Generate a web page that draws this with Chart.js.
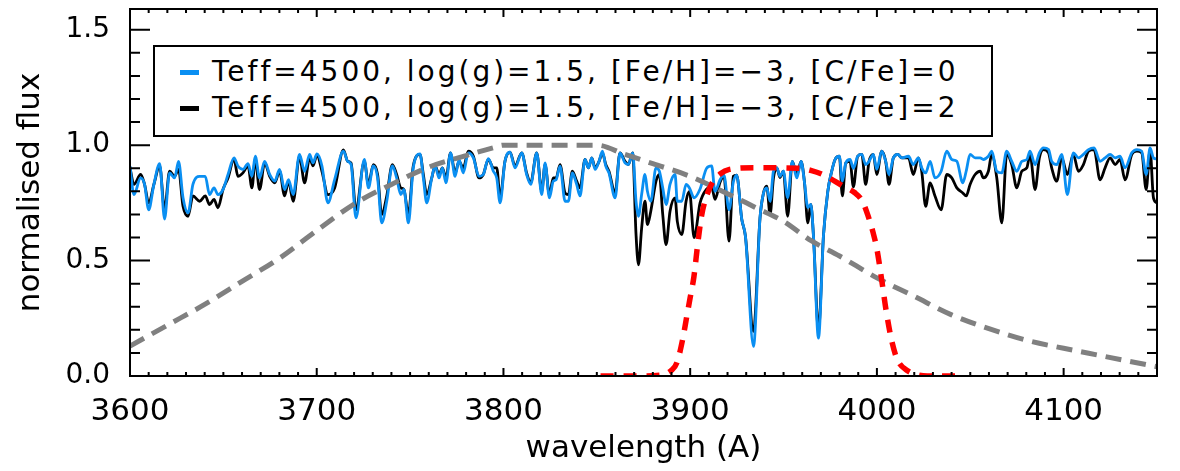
<!DOCTYPE html>
<html>
<head>
<meta charset="utf-8">
<script src="https://cdn.jsdelivr.net/npm/chart.js@4.4.1/dist/chart.umd.min.js"></script>
<style>
  body { margin: 0; background: #fff; }
  #wrap { position: relative; width: 1180px; height: 471px; }
  .legend {
    position: absolute; left: 153px; top: 45px; width: 836px; height: 88px;
    border: 2px solid #000; background: #fff;
    font-family: 'DejaVu Sans', sans-serif; font-size: 28px; letter-spacing: 3px; color: #000;
  }
  .legend .row { position: absolute; left: 0; height: 36px; line-height: 36px; white-space: nowrap; }
  .legend .swatch { position: absolute; left: 25px; top: 16px; width: 19px; height: 5px; }
  .legend .txt { position: absolute; left: 57px; top: 0; }
</style>
</head>
<body>
<div id="wrap">
  <canvas id="chart" width="1180" height="471"></canvas>
  <div class="legend" id="legend"></div>
</div>
<script>
// ---------------------------------------------------------------
// Data

// wavelength sample points (A), shared by both synthetic spectra
var wave = [
  3600.0, 3602.1, 3605.7, 3607.8, 3610.0, 3612.8, 3615.9, 3618.5, 3621.2, 3623.9,
  3626.0, 3628.4, 3631.1, 3633.7, 3637.3, 3640.3, 3642.6, 3645.0, 3647.1, 3649.8,
  3652.5, 3655.7, 3657.8, 3660.5, 3663.2, 3665.3, 3667.1, 3669.4, 3672.1, 3674.8,
  3677.5, 3680.1, 3682.8, 3684.9, 3687.4, 3690.8, 3693.5, 3696.2, 3698.0, 3700.1,
  3702.8, 3706.0, 3709.6, 3714.3, 3716.6, 3718.4, 3721.0, 3725.5, 3727.7, 3730.3,
  3732.6, 3734.8, 3737.5, 3740.5, 3742.8, 3745.0, 3746.7, 3749.1, 3751.7, 3755.3,
  3757.1, 3758.9, 3761.6, 3763.4, 3765.5, 3767.3, 3769.2, 3771.7, 3774.1, 3776.2,
  3778.5, 3781.2, 3783.9, 3786.9, 3789.2, 3791.9, 3794.6, 3796.4, 3798.2, 3800.8,
  3803.5, 3806.2, 3809.8, 3812.4, 3814.6, 3817.8, 3820.5, 3822.3, 3824.6, 3826.7,
  3828.2, 3830.3, 3833.0, 3834.8, 3836.9, 3839.2, 3841.0, 3843.7, 3845.5, 3847.3,
  3849.1, 3851.2, 3853.0, 3854.8, 3856.5, 3859.8, 3862.4, 3865.1, 3866.9, 3869.2,
  3871.0, 3872.3, 3874.0, 3875.8, 3877.1, 3878.9, 3881.7, 3883.5, 3885.3, 3887.1,
  3889.2, 3891.9, 3893.1, 3895.5, 3897.8, 3899.6, 3902.1, 3905.3, 3908.8, 3911.5,
  3913.3, 3916.0, 3918.1, 3920.8, 3923.1, 3924.9, 3927.6, 3929.6, 3933.9, 3937.4,
  3939.2, 3941.0, 3942.8, 3944.6, 3946.4, 3948.1, 3949.9, 3952.2, 3954.7, 3957.1,
  3959.4, 3961.2, 3963.0, 3964.6, 3966.0, 3968.7, 3971.4, 3973.7, 3975.8, 3977.6,
  3979.9, 3981.5, 3983.3, 3985.6, 3987.4, 3989.7, 3991.9, 3994.0, 3995.8, 3998.1,
  3999.9, 4002.6, 4004.7, 4006.5, 4008.8, 4011.2, 4013.3, 4016.9, 4019.5, 4022.2,
  4024.0, 4026.1, 4028.5, 4031.1, 4034.4, 4037.4, 4040.1, 4042.8, 4046.0, 4047.8,
  4049.9, 4052.6, 4055.3, 4057.0, 4059.7, 4061.5, 4064.2, 4066.9, 4069.5, 4072.2,
  4074.9, 4077.6, 4080.3, 4082.0, 4084.7, 4087.0, 4089.2, 4091.9, 4093.6, 4096.3,
  4099.0, 4102.0, 4105.2, 4107.9, 4110.6, 4113.3, 4116.3, 4119.5, 4122.2, 4124.9,
  4127.6, 4130.2, 4132.9, 4136.5, 4139.2, 4141.8, 4144.2, 4146.3, 4148.1, 4150.0
]

// [C/Fe]=0 spectrum (blue)
var fluxCFe0 = [
  0.909, 0.786, 0.858, 0.830, 0.720, 0.830, 0.920, 0.680, 0.880, 0.858,
  0.930, 0.772, 0.707, 0.830, 0.865, 0.865, 0.786, 0.815, 0.786, 0.808,
  0.873, 0.945, 0.910, 0.895, 0.920, 0.865, 0.952, 0.858, 0.930, 0.873,
  0.844, 0.895, 0.808, 0.851, 0.786, 0.960, 0.887, 0.960, 0.923, 0.962,
  0.910, 0.750, 0.851, 0.974, 0.930, 0.916, 0.685, 0.938, 0.815, 0.910,
  0.858, 0.663, 0.757, 0.910, 0.858, 0.786, 0.808, 0.663, 0.902, 0.962,
  0.858, 0.750, 0.858, 0.910, 0.858, 0.902, 0.837, 0.967, 0.865, 0.938,
  0.880, 0.967, 0.945, 0.865, 0.873, 0.942, 0.887, 0.858, 0.750, 0.930,
  0.970, 0.902, 0.967, 0.873, 0.830, 0.967, 0.786, 0.923, 0.772, 0.844,
  0.850, 0.909, 0.757, 0.757, 0.880, 0.830, 0.780, 0.938, 0.902, 0.945,
  0.895, 0.930, 0.974, 0.909, 0.880, 0.772, 0.967, 0.923, 0.916, 0.967,
  0.757, 0.692, 0.786, 0.873, 0.800, 0.757, 0.902, 0.887, 0.815, 0.743,
  0.830, 0.873, 0.757, 0.757, 0.830, 0.815, 0.772, 0.810, 0.900, 0.910,
  0.800, 0.850, 0.870, 0.720, 0.840, 0.870, 0.680, 0.605, 0.128, 0.685,
  0.790, 0.815, 0.757, 0.887, 0.902, 0.865, 0.887, 0.772, 0.930, 0.858,
  0.930, 0.840, 0.730, 0.743, 0.610, 0.164, 0.610, 0.800, 0.887, 0.938,
  0.952, 0.844, 0.923, 0.938, 0.900, 0.952, 0.960, 0.916, 0.930, 0.960,
  0.895, 0.974, 0.930, 0.873, 0.945, 0.960, 0.945, 0.952, 0.916, 0.945,
  0.902, 0.880, 0.930, 0.858, 0.887, 0.974, 0.938, 0.930, 0.837, 0.887,
  0.960, 0.945, 0.945, 0.938, 0.952, 0.974, 0.887, 0.880, 0.974, 0.930,
  0.887, 0.930, 0.938, 0.974, 0.916, 0.967, 0.988, 0.981, 0.930, 0.916,
  0.960, 0.786, 0.967, 0.945, 0.960, 0.981, 0.988, 0.930, 0.945, 0.960,
  0.945, 0.952, 0.902, 0.967, 0.981, 0.974, 0.873, 0.988, 0.945, 0.940
]

// [C/Fe]=2 spectrum (black)
var fluxCFe2 = [
  0.902, 0.830, 0.873, 0.830, 0.750, 0.830, 0.910, 0.720, 0.887, 0.865,
  0.895, 0.735, 0.692, 0.780, 0.757, 0.780, 0.743, 0.765, 0.729, 0.808,
  0.858, 0.940, 0.865, 0.880, 0.910, 0.815, 0.940, 0.808, 0.923, 0.865,
  0.837, 0.887, 0.780, 0.844, 0.757, 0.952, 0.837, 0.945, 0.910, 0.957,
  0.887, 0.786, 0.815, 0.980, 0.930, 0.923, 0.720, 0.930, 0.830, 0.916,
  0.873, 0.700, 0.780, 0.916, 0.873, 0.815, 0.808, 0.700, 0.910, 0.960,
  0.873, 0.786, 0.858, 0.910, 0.873, 0.902, 0.858, 0.967, 0.880, 0.930,
  0.902, 0.974, 0.952, 0.858, 0.873, 0.938, 0.902, 0.902, 0.772, 0.930,
  0.970, 0.910, 0.967, 0.880, 0.837, 0.967, 0.800, 0.916, 0.786, 0.858,
  0.858, 0.916, 0.793, 0.786, 0.887, 0.844, 0.815, 0.938, 0.902, 0.945,
  0.902, 0.930, 0.967, 0.916, 0.887, 0.793, 0.967, 0.930, 0.916, 0.967,
  0.613, 0.482, 0.640, 0.757, 0.656, 0.714, 0.844, 0.873, 0.700, 0.569,
  0.714, 0.772, 0.670, 0.613, 0.757, 0.800, 0.600, 0.750, 0.810, 0.820,
  0.765, 0.840, 0.865, 0.584, 0.865, 0.870, 0.680, 0.605, 0.193, 0.685,
  0.790, 0.822, 0.700, 0.858, 0.902, 0.860, 0.887, 0.692, 0.930, 0.873,
  0.930, 0.840, 0.663, 0.743, 0.610, 0.200, 0.610, 0.800, 0.887, 0.938,
  0.952, 0.780, 0.923, 0.930, 0.820, 0.952, 0.960, 0.830, 0.930, 0.960,
  0.873, 0.974, 0.930, 0.830, 0.945, 0.960, 0.945, 0.945, 0.873, 0.945,
  0.887, 0.735, 0.837, 0.780, 0.720, 0.873, 0.858, 0.815, 0.793, 0.780,
  0.830, 0.873, 0.887, 0.858, 0.887, 0.960, 0.858, 0.663, 0.960, 0.916,
  0.815, 0.887, 0.902, 0.960, 0.808, 0.945, 0.981, 0.967, 0.902, 0.844,
  0.945, 0.873, 0.960, 0.887, 0.916, 0.974, 0.981, 0.850, 0.902, 0.945,
  0.916, 0.938, 0.850, 0.960, 0.974, 0.967, 0.808, 0.981, 0.772, 0.750
]

// broad filter transmission (grey dashed)
var broadWave = [3600, 3620, 3640, 3660, 3680, 3700, 3720, 3740, 3760, 3780, 3795, 3800,
  3850, 3865, 3880, 3900, 3920, 3935, 3950, 3965, 3980, 4000, 4020, 4040, 4060,
  4080, 4100, 4120, 4150]
var broadTrans = [0.13, 0.22, 0.31, 0.41, 0.51, 0.63, 0.745, 0.83, 0.905, 0.955, 0.99, 1.0,
  1.0, 0.96, 0.92, 0.865, 0.79, 0.73, 0.67, 0.585, 0.52, 0.425, 0.345, 0.265, 0.205,
  0.155, 0.12, 0.088, 0.04]

// narrow Ca H&K filter transmission (red dashed)
var narrowWave = [3852, 3870, 3885, 3890, 3893, 3896, 3898, 3900, 3902, 3904, 3906, 3908,
  3912, 3916, 3921, 3935, 3958, 3965, 3971, 3982, 3988, 3992, 3995, 3998, 4000,
  4002.5, 4005, 4008, 4011, 4016, 4022, 4027, 4047]
var narrowTrans = [0, 0, 0.005, 0.025, 0.06, 0.16, 0.25, 0.34, 0.43, 0.57, 0.69, 0.76,
  0.84, 0.875, 0.895, 0.902, 0.9, 0.89, 0.873, 0.822, 0.795, 0.76, 0.7, 0.62, 0.55,
  0.42, 0.28, 0.15, 0.07, 0.025, 0.005, 0, 0]

var xTickValues = [3600, 3700, 3800, 3900, 4000, 4100]
var yTickValues = [0.0, 0.5, 1.0, 1.5]
var legendLabels = [
  'Teff=4500, log(g)=1.5, [Fe/H]=\u22123, [C/Fe]=0',
  'Teff=4500, log(g)=1.5, [Fe/H]=\u22123, [C/Fe]=2'
]
var xTitle = 'wavelength (A)'
var yTitle = 'normalised flux'

// ---------------------------------------------------------------

var blue = '#0a8ff2'
var fontFamily = "'DejaVu Sans', sans-serif"

function points(xs, ys) {
  return xs.map(function (x, i) {
    return { x: x, y: ys[i] }
  })
}

// legend box (html on top of the canvas)
function renderLegend() {
  var colors = [blue, '#000']
  var html = ''
  legendLabels.forEach(function (label, i) {
    html += `<div class="row" style="top:${7 + i * 36}px">
        <span class="swatch" style="background:${colors[i]}"></span>
        <span class="txt">${label}</span>
      </div>`
  })
  document.getElementById('legend').innerHTML = html
}
renderLegend()

// frame with inward ticks on all four sides, like the original plot
const frameTicks = {
  id: 'frameTicks',
  afterDatasetsDraw(chart) {
    const { ctx, chartArea: a, scales: { x, y } } = chart
    ctx.save()
    ctx.strokeStyle = '#000'
    ctx.lineWidth = 2
    ctx.strokeRect(a.left, a.top, a.right - a.left, a.bottom - a.top)
    ctx.beginPath()
    for (let v = 3600; v <= 4150; v += 10) {
      const px = x.getPixelForValue(v)
      const len = v % 100 === 0 ? 8 : 4
      ctx.moveTo(px, a.bottom); ctx.lineTo(px, a.bottom - len)
      ctx.moveTo(px, a.top); ctx.lineTo(px, a.top + len)
    }
    for (let i = 0; i <= 15; i++) {
      const py = y.getPixelForValue(i / 10)
      const len = i % 5 === 0 ? 20 : 10
      ctx.moveTo(a.left, py); ctx.lineTo(a.left + len, py)
      ctx.moveTo(a.right, py); ctx.lineTo(a.right - len, py)
    }
    ctx.stroke()
    ctx.restore()
  }
}

const ctx = document.getElementById('chart').getContext('2d')
const chart = new Chart(ctx, {
  type: 'line',
  data: {
    datasets: [
      {
        label: 'narrow filter',
        data: points(narrowWave, narrowTrans),
        borderColor: '#ff0000',
        borderWidth: 5.5,
        borderDash: [13, 10],
        cubicInterpolationMode: 'monotone'
      },
      {
        label: 'broad filter',
        data: points(broadWave, broadTrans),
        borderColor: '#808080',
        borderWidth: 5,
        borderDash: [16, 9],
        cubicInterpolationMode: 'monotone'
      },
      {
        label: legendLabels[0],
        data: points(wave, fluxCFe0),
        borderColor: blue,
        borderWidth: 2.8,
        cubicInterpolationMode: 'monotone'
      },
      {
        label: legendLabels[1],
        data: points(wave, fluxCFe2),
        borderColor: '#000',
        borderWidth: 2.8,
        cubicInterpolationMode: 'monotone'
      }
    ]
  },
  options: {
    responsive: false,
    animation: false,
    events: [],
    elements: { point: { radius: 0 } },
    layout: { padding: { top: 9, right: 23, left: 0, bottom: 0 } },
    plugins: {
      legend: { display: false },
      tooltip: { enabled: false }
    },
    scales: {
      x: {
        type: 'linear',
        min: 3600,
        max: 4150,
        afterBuildTicks: function (scale) {
          scale.ticks = xTickValues.map(function (v) { return { value: v } })
        },
        afterFit: function (scale) {
          scale.height = 95
          scale.paddingLeft = 0
          scale.paddingRight = 0
        },
        grid: { display: false, drawTicks: false },
        border: { display: false },
        ticks: {
          color: '#000',
          font: { family: fontFamily, size: 31 },
          padding: 17,
          maxRotation: 0,
          callback: function (v) { return String(v) }
        },
        title: {
          display: true,
          text: xTitle,
          color: '#000',
          font: { family: fontFamily, size: 31 },
          padding: { top: 0, bottom: 3 }
        }
      },
      y: {
        min: 0,
        max: 1.59,
        afterBuildTicks: function (scale) {
          scale.ticks = yTickValues.map(function (v) { return { value: v } })
        },
        afterFit: function (scale) {
          scale.width = 130
          scale.paddingTop = 0
          scale.paddingBottom = 0
        },
        grid: { display: false, drawTicks: false },
        border: { display: false },
        ticks: {
          color: '#000',
          font: { family: fontFamily, size: 28 },
          padding: 20,
          callback: function (v) { return v.toFixed(1) }
        },
        title: {
          display: true,
          text: yTitle,
          color: '#000',
          font: { family: fontFamily, size: 31 },
          padding: { top: 12, bottom: 0 }
        }
      }
    }
  },
  plugins: [frameTicks]
})
</script>
</body>
</html>
